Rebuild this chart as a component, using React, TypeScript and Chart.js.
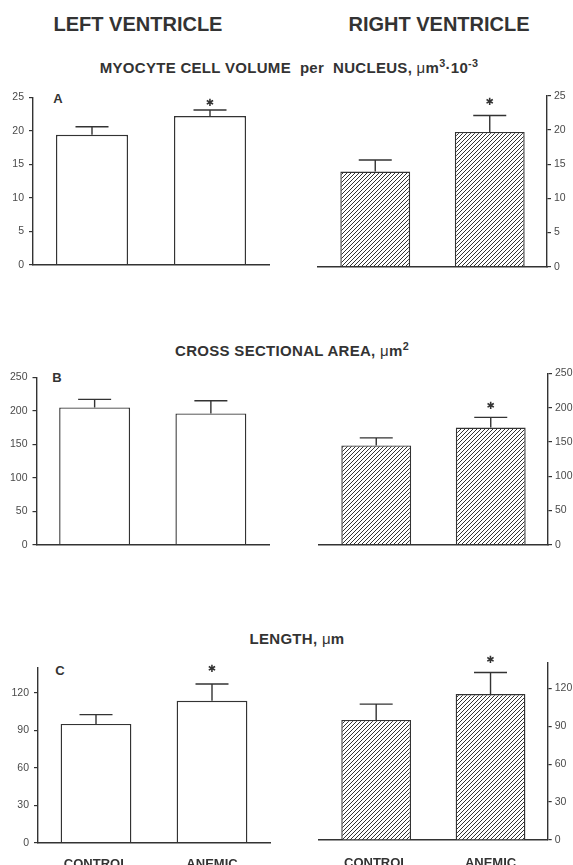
import React, { useEffect, useRef } from 'react';
import { Chart, registerables } from 'chart.js';

Chart.register(...registerables);

// ---------- data ----------
const CATEGORIES = ['CONTROL', 'ANEMIC'];

const LV_VOLUME = [19.4, 22.2];
const LV_VOLUME_SEM = [1.2, 0.9];
const LV_VOLUME_SIG = [false, true];
const RV_VOLUME = [13.9, 19.7];
const RV_VOLUME_SEM = [1.7, 2.4];
const RV_VOLUME_SIG = [false, true];

const LV_AREA = [205, 196];
const LV_AREA_SEM = [12, 19];
const LV_AREA_SIG = [false, false];
const RV_AREA = [145, 171];
const RV_AREA_SEM = [11, 15];
const RV_AREA_SIG = [false, true];

const LV_LENGTH = [95, 113.5];
const LV_LENGTH_SEM = [7.5, 13.5];
const LV_LENGTH_SIG = [false, true];
const RV_LENGTH = [95, 115.5];
const RV_LENGTH_SEM = [12.5, 17];
const RV_LENGTH_SIG = [false, true];

const VOLUME_TICKS = [0, 5, 10, 15, 20, 25];
const AREA_TICKS = [0, 50, 100, 150, 200, 250];
const LENGTH_TICKS = [0, 30, 60, 90, 120];
const VOLUME_MAX = 25;
const AREA_MAX = 250;
const LENGTH_MAX = 140;

// ---------- style ----------
const INK = '#333333';
const TICK_INK = '#4a4a4a';
const FONT = '"Liberation Sans", Arial, Helvetica, sans-serif';

type Frame = { left: number; top: number; width: number; height: number };
type Area = { L: number; T: number; R: number; B: number };

type PanelProps = {
  frame: Frame;
  area: Area;
  side: 'left' | 'right';
  means: number[];
  sems: number[];
  sig: boolean[];
  ticks: number[];
  max: number;
  hatched: boolean;
  showLabels: boolean;
  labelPad: number;
  starGap: number;
  xh: number;
};

function makeHatch(ctx: CanvasRenderingContext2D) {
  const c = document.createElement('canvas');
  c.width = 4;
  c.height = 4;
  const g = c.getContext('2d')!;
  g.fillStyle = '#ffffff';
  g.fillRect(0, 0, 4, 4);
  g.strokeStyle = '#333333';
  g.lineWidth = 1.0;
  g.beginPath();
  g.moveTo(0, 4);
  g.lineTo(4, 0);
  g.moveTo(-1, 1);
  g.lineTo(1, -1);
  g.moveTo(3, 5);
  g.lineTo(5, 3);
  g.stroke();
  return ctx.createPattern(c, 'repeat');
}

function Panel(p: PanelProps) {
  const ref = useRef<HTMLCanvasElement | null>(null);
  useEffect(() => {
    const canvas = ref.current!;
    const ctx2d = canvas.getContext('2d')!;
    const { frame: f, area: a } = p;
    const yw = p.side === 'left' ? a.L - f.left : f.left + f.width - a.R;
    const padding =
      p.side === 'left'
        ? { left: 0, right: f.left + f.width - a.R, top: a.T - f.top, bottom: f.top + f.height - a.B - p.xh }
        : { left: a.L - f.left, right: 0, top: a.T - f.top, bottom: f.top + f.height - a.B - p.xh };
    const fill = p.hatched ? makeHatch(ctx2d) : '#ffffff';

    const errPlugin = {
      id: 'errbars',
      afterDatasetsDraw(chart: any) {
        const ctx = chart.ctx as CanvasRenderingContext2D;
        const meta = chart.getDatasetMeta(0);
        const ys = chart.scales.y;
        ctx.save();
        ctx.strokeStyle = INK;
        ctx.lineWidth = 1.4;
        meta.data.forEach((bar: any, i: number) => {
          const x = bar.x;
          const y0 = bar.y;
          const y1 = ys.getPixelForValue(p.means[i] + p.sems[i]);
          ctx.beginPath();
          ctx.moveTo(x, y0);
          ctx.lineTo(x, y1);
          ctx.moveTo(x - 16.5, y1);
          ctx.lineTo(x + 16.5, y1);
          ctx.stroke();
          if (p.sig[i]) {
            ctx.fillStyle = INK;
            ctx.font = '10px "DejaVu Sans"';
            ctx.textAlign = 'center';
            ctx.textBaseline = 'middle';
            ctx.fillText('\u2731', x, y1 - p.starGap);
          }
        });
        ctx.restore();
      },
    };

    const chart = new Chart(canvas, {
      type: 'bar',
      data: {
        labels: CATEGORIES,
        datasets: [
          {
            data: p.means,
            backgroundColor: fill as any,
            borderColor: INK,
            borderWidth: 1.4,
            categoryPercentage: 0.61,
            barPercentage: 1,
          },
        ],
      },
      options: {
        animation: false,
        responsive: false,
        maintainAspectRatio: false,
        devicePixelRatio: 1,
        layout: { padding },
        plugins: { legend: { display: false }, tooltip: { enabled: false }, title: { display: false } },
        scales: {
          x: {
            type: 'category',
            offset: true,
            grid: { display: false },
            border: { display: true, color: INK, width: 1.4 },
            ticks: {
              display: p.showLabels,
              color: INK,
              padding: p.labelPad,
              font: { family: FONT, size: 13, weight: 'bold' },
            },
            afterFit: (s: any) => {
              s.height = p.xh;
            },
          },
          y: {
            type: 'linear',
            position: p.side,
            min: 0,
            max: p.max,
            grid: { display: true, drawOnChartArea: false, drawTicks: true, tickLength: 4, color: INK, lineWidth: 1.2 },
            border: { display: true, color: INK, width: 1.4 },
            ticks: {
              color: TICK_INK,
              padding: p.side === 'left' ? 5 : 3,
              font: { family: FONT, size: 10.5 },
            },
            afterBuildTicks: (s: any) => {
              s.ticks = p.ticks.map((v) => ({ value: v }));
            },
            afterFit: (s: any) => {
              s.width = yw;
            },
          },
        },
      } as any,
      plugins: [errPlugin],
    });
    return () => chart.destroy();
  }, []);
  return (
    <canvas
      ref={ref}
      width={p.frame.width}
      height={p.frame.height}
      style={{ position: 'absolute', left: p.frame.left, top: p.frame.top, width: p.frame.width, height: p.frame.height }}
    />
  );
}

function Label(props: { x: number; y: number; size: number; spacing?: number; children: React.ReactNode }) {
  return (
    <div
      style={{
        position: 'absolute',
        left: props.x,
        top: props.y,
        transform: 'translate(-50%, -50%)',
        whiteSpace: 'nowrap',
        fontFamily: FONT,
        fontWeight: 'bold',
        fontSize: props.size,
        letterSpacing: props.spacing ?? 0,
        color: INK,
        lineHeight: 1,
      }}
    >
      {props.children}
    </div>
  );
}

const supStyle: React.CSSProperties = { fontSize: '0.72em', verticalAlign: '0.55em', lineHeight: 0 };
const muStyle: React.CSSProperties = { fontWeight: 'normal' };

export default function App() {
  return (
    <div
      style={{
        position: 'fixed',
        left: 0,
        top: 0,
        width: 573,
        height: 865,
        overflow: 'hidden',
        background: '#ffffff',
      }}
    >
      <Label x={138} y={24} size={20}>LEFT VENTRICLE</Label>
      <Label x={439} y={24} size={20}>RIGHT VENTRICLE</Label>
      <Label x={289} y={67} size={15} spacing={0.3}>
        MYOCYTE CELL VOLUME&nbsp; per&nbsp; NUCLEUS, <span style={muStyle}>μ</span>m<span style={supStyle}>3</span>·10
        <span style={supStyle}>-3</span>
      </Label>
      <Label x={292} y={350} size={15} spacing={0.3}>
        CROSS SECTIONAL AREA, <span style={muStyle}>μ</span>m<span style={supStyle}>2</span>
      </Label>
      <Label x={297} y={638} size={15} spacing={0.3}>
        LENGTH, <span style={muStyle}>μ</span>m
      </Label>
      <Label x={58} y={98} size={13}>A</Label>
      <Label x={57} y={376.5} size={13}>B</Label>
      <Label x={60} y={670} size={13}>C</Label>

      <Panel
        frame={{ left: 0, top: 86, width: 290, height: 190 }}
        area={{ L: 33, T: 96, R: 269, B: 272.7 }}
        side="left"
        means={LV_VOLUME}
        sems={LV_VOLUME_SEM}
        sig={LV_VOLUME_SIG}
        ticks={VOLUME_TICKS}
        max={VOLUME_MAX}
        hatched={false}
        showLabels={false}
        labelPad={0}
        starGap={7}
        xh={1}
      />
      <Panel
        frame={{ left: 290, top: 86, width: 283, height: 190 }}
        area={{ L: 318, T: 95.7, R: 547, B: 271.7 }}
        side="right"
        means={RV_VOLUME}
        sems={RV_VOLUME_SEM}
        sig={RV_VOLUME_SIG}
        ticks={VOLUME_TICKS}
        max={VOLUME_MAX}
        hatched={true}
        showLabels={false}
        labelPad={0}
        starGap={13}
        xh={1}
      />
      <Panel
        frame={{ left: 0, top: 366, width: 290, height: 190 }}
        area={{ L: 36.5, T: 375.7, R: 269, B: 550.7 }}
        side="left"
        means={LV_AREA}
        sems={LV_AREA_SEM}
        sig={LV_AREA_SIG}
        ticks={AREA_TICKS}
        max={AREA_MAX}
        hatched={false}
        showLabels={false}
        labelPad={0}
        starGap={11}
        xh={1}
      />
      <Panel
        frame={{ left: 290, top: 364, width: 283, height: 190 }}
        area={{ L: 319, T: 373.5, R: 548, B: 549 }}
        side="right"
        means={RV_AREA}
        sems={RV_AREA_SEM}
        sig={RV_AREA_SIG}
        ticks={AREA_TICKS}
        max={AREA_MAX}
        hatched={true}
        showLabels={false}
        labelPad={0}
        starGap={11}
        xh={1}
      />
      <Panel
        frame={{ left: 0, top: 652, width: 290, height: 228 }}
        area={{ L: 38, T: 667.7, R: 270, B: 842.7 }}
        side="left"
        means={LV_LENGTH}
        sems={LV_LENGTH_SEM}
        sig={LV_LENGTH_SIG}
        ticks={LENGTH_TICKS}
        max={LENGTH_MAX}
        hatched={false}
        showLabels={true}
        labelPad={5.5}
        starGap={15}
        xh={30}
      />
      <Panel
        frame={{ left: 290, top: 648, width: 283, height: 232 }}
        area={{ L: 319, T: 663, R: 547.7, B: 840 }}
        side="right"
        means={RV_LENGTH}
        sems={RV_LENGTH_SEM}
        sig={RV_LENGTH_SIG}
        ticks={LENGTH_TICKS}
        max={LENGTH_MAX}
        hatched={true}
        showLabels={true}
        labelPad={8}
        starGap={12}
        xh={30}
      />
    </div>
  );
}
